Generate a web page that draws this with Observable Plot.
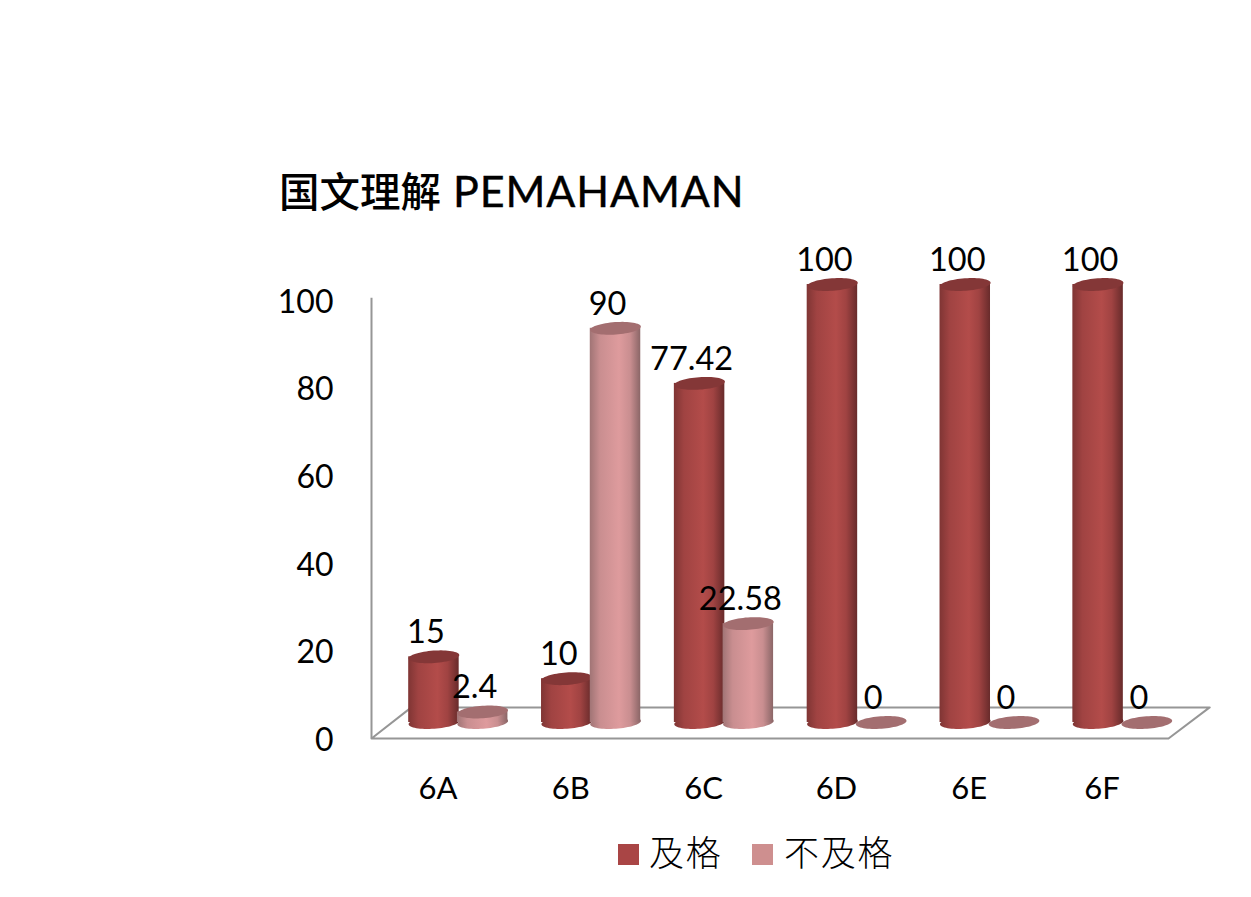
<!DOCTYPE html>
<html>
<head>
<meta charset="utf-8">
<script src="https://cdn.jsdelivr.net/npm/d3@7"></script>
<script src="https://cdn.jsdelivr.net/npm/@observablehq/plot@0.6"></script>
<style>
html,body{margin:0;padding:0;background:#fff;width:1251px;height:897px;overflow:hidden}
#wrap{position:relative;width:1251px;height:897px}
#title{position:absolute;left:279px;top:160px;font:500 40.5px "Noto Sans CJK SC",sans-serif;color:#000;white-space:nowrap;line-height:60px}
#title span{font:400 43px Lato,sans-serif;letter-spacing:.9px;margin-left:12px;-webkit-text-stroke:.4px #000}
.leg{position:absolute;top:828px;font:300 35px "Noto Sans CJK TC",sans-serif;color:#000;white-space:nowrap;line-height:46px;letter-spacing:1.8px}
.sw{position:absolute;top:844px;width:21px;height:21px}
svg{display:block}
</style>
</head>
<body>
<div id="wrap">
<div id="chart"></div>
<div id="title">国文理解<span>PEMAHAMAN</span></div>
<div class="sw" style="left:618px;background:#a94545"></div>
<div class="leg" style="left:649px">及格</div>
<div class="sw" style="left:752px;background:#ce8f8f"></div>
<div class="leg" style="left:784px">不及格</div>
</div>
<script>
const categories = ["6A","6B","6C","6D","6E","6F"];
const passValues = [15,10,77.42,100,100,100];
const failValues = [2.4,90,22.58,0,0,0];
const yTicks = [0,20,40,60,80,100];
const floorX = [0,6,6.31,0.3,0];
const floorY = [0,0,7.1,7.1,0];

const slotPass = 0.47, slotFail = 0.837, barWidth = 0.38;
const table = (vals, slot, series) => vals.map((v,i)=>({
  series, value:v, cx:i+slot, x1:i+slot-barWidth/2, x2:i+slot+barWidth/2
}));
const pass = table(passValues, slotPass, "pass");
const fail = table(failValues, slotFail, "fail");

const ellipse = {draw(ctx){
  const rx=25.4, ry=6.2, t=-4*Math.PI/180;
  for(let k=0;k<64;k++){
    const a=k/64*2*Math.PI, ex=rx*Math.cos(a), ey=ry*Math.sin(a);
    const px=ex*Math.cos(t)-ey*Math.sin(t), py=ex*Math.sin(t)+ey*Math.cos(t);
    k?ctx.lineTo(px,py):ctx.moveTo(px,py);
  }
  ctx.closePath();
}};
const lift = -16;
const cylinder = (rows, grad, top) => [
  Plot.dot(rows.filter(d=>d.value>0),{x:"cx",y:()=>0,symbol:ellipse,fill:`url(#${grad})`,stroke:"none",dy:lift}),
  Plot.rect(rows.filter(d=>d.value>0),{x1:"x1",x2:"x2",y1:()=>0,y2:"value",fill:`url(#${grad})`,dy:lift}),
  Plot.dot(rows,{x:"cx",y:"value",symbol:ellipse,fill:top,stroke:"none",dy:lift})
];
const labelFont = {fontFamily:"Lato,sans-serif",fontSize:32.5,fill:"#000"};

const plot = Plot.plot({
  width:1251,height:897,
  marginLeft:371,marginRight:83,marginTop:300,marginBottom:159,
  style:{background:"#fff",overflow:"visible"},
  x:{type:"linear",domain:[0,6]},
  y:{domain:[0,100]},
  marks:[
    Plot.line(floorX.map((x,i)=>({x,y:floorY[i]})),{x:"x",y:"y",stroke:"#969696",strokeWidth:2}),
    Plot.ruleX([0],{y1:0,y2:100.5,stroke:"#969696",strokeWidth:2}),
    Plot.axisY({ticks:yTicks,tickSize:0,tickPadding:38,label:null,fontSize:32,fontFamily:"Lato,sans-serif",dy:2,color:"#000"}),
    Plot.axisX({ticks:categories.map((c,i)=>i+.5),tickFormat:t=>categories[t-.5],tickSize:0,tickPadding:38,label:null,fontSize:31,fontFamily:"Lato,sans-serif",color:"#000"}),
    ...cylinder(pass,"gradPass","#843737"),
    ...cylinder(fail,"gradFail","#a36e70"),
    Plot.text(pass,{x:"cx",y:"value",text:d=>String(d.value),dy:lift-24,dx:-8,...labelFont}),
    Plot.text(fail,{x:"cx",y:"value",text:d=>String(d.value),dy:lift-24,dx:-8,...labelFont})
  ]
});
const ns="http://www.w3.org/2000/svg";
const defs=document.createElementNS(ns,"defs");
const mk=(id,stops)=>{
  const g=document.createElementNS(ns,"linearGradient");
  g.setAttribute("id",id);
  stops.forEach(([o,c])=>{const s=document.createElementNS(ns,"stop");s.setAttribute("offset",o);s.setAttribute("stop-color",c);g.appendChild(s);});
  defs.appendChild(g);
};
mk("gradPass",[[0,"#7f3534"],[.2,"#a04342"],[.58,"#b34c4a"],[.78,"#a04342"],[1,"#682b2b"]]);
mk("gradFail",[[0,"#a07475"],[.2,"#c98e90"],[.58,"#de9b9d"],[.8,"#c98e90"],[1,"#8b6667"]]);
plot.insertBefore(defs,plot.firstChild);
document.getElementById("chart").appendChild(plot);
</script>
</body>
</html>
